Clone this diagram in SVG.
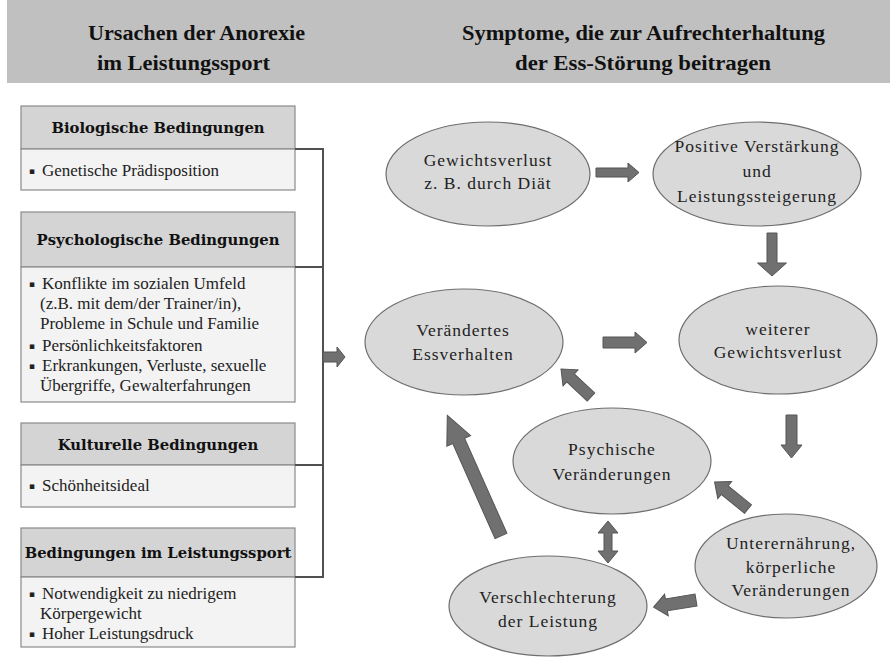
<svg xmlns="http://www.w3.org/2000/svg" width="890" height="660" viewBox="0 0 890 660">
<style>
.title{font-family:'Liberation Serif','Times New Roman',serif;font-weight:bold;font-size:20px;fill:#111}
.bh{fill:#d4d4d4;stroke:#8a8a8a;stroke-width:1.2}
.bb{fill:#f3f3f3;stroke:#8a8a8a;stroke-width:1.2}
.ht{font-family:'DejaVu Serif',serif;font-weight:bold;font-size:14.8px;fill:#111;text-anchor:middle}
.bt{font-family:'Liberation Serif','Times New Roman',serif;font-size:17px;fill:#222}
.bul{font-family:'DejaVu Sans',sans-serif;font-size:9px;fill:#222}
.el{fill:#d9d9d9;stroke:#6e6e6e;stroke-width:1.2}
.et{font-family:'Liberation Serif','Times New Roman',serif;font-size:17.5px;fill:#222;text-anchor:middle;letter-spacing:1px}
.ar{fill:#707070;stroke:#555;stroke-width:1}
.ln{fill:none;stroke:#505050;stroke-width:2}
</style>
<rect x="0" y="0" width="890" height="660" fill="#fff"/>
<g id="header">
<rect x="7" y="0" width="883" height="83" fill="#c0c0c0"/>
<text class="title" x="88" y="40" textLength="217" lengthAdjust="spacingAndGlyphs">Ursachen der Anorexie</text>
<text class="title" x="97" y="70" textLength="173" lengthAdjust="spacingAndGlyphs">im Leistungssport</text>
<text class="title" x="462" y="40" textLength="363" lengthAdjust="spacingAndGlyphs">Symptome, die zur Aufrechterhaltung</text>
<text class="title" x="515" y="70" textLength="256" lengthAdjust="spacingAndGlyphs">der Ess-Störung beitragen</text>
</g>
<g id="box-bio">
<rect class="bh" x="21" y="106" width="274" height="43"/>
<rect class="bb" x="21" y="149" width="274" height="41"/>
<text class="ht" x="158" y="133">Biologische Bedingungen</text>
<text class="bul" x="29" y="174">▪</text>
<text class="bt" x="42" y="176">Genetische Prädisposition</text>
</g>
<g id="box-psy">
<rect class="bh" x="21" y="212" width="274" height="55"/>
<rect class="bb" x="21" y="267" width="274" height="135"/>
<text class="ht" x="158" y="245">Psychologische Bedingungen</text>
<text class="bul" x="29" y="287">▪</text>
<text class="bt" x="42" y="289">Konflikte im sozialen Umfeld</text>
<text class="bt" x="40" y="309">(z.B. mit dem/der Trainer/in),</text>
<text class="bt" x="40" y="329">Probleme in Schule und Familie</text>
<text class="bul" x="29" y="349">▪</text>
<text class="bt" x="42" y="351">Persönlichkeitsfaktoren</text>
<text class="bul" x="29" y="369">▪</text>
<text class="bt" x="42" y="371">Erkrankungen, Verluste, sexuelle</text>
<text class="bt" x="40" y="391">Übergriffe, Gewalterfahrungen</text>
</g>
<g id="box-kult">
<rect class="bh" x="21" y="423" width="274" height="42"/>
<rect class="bb" x="21" y="465" width="274" height="42"/>
<text class="ht" x="158" y="450">Kulturelle Bedingungen</text>
<text class="bul" x="29" y="489">▪</text>
<text class="bt" x="42" y="491">Schönheitsideal</text>
</g>
<g id="box-sport">
<rect class="bh" x="21" y="528" width="274" height="49"/>
<rect class="bb" x="21" y="577" width="274" height="70"/>
<text class="ht" x="158" y="558">Bedingungen im Leistungssport</text>
<text class="bul" x="29" y="597">▪</text>
<text class="bt" x="42" y="599">Notwendigkeit zu niedrigem</text>
<text class="bt" x="40" y="619">Körpergewicht</text>
<text class="bul" x="29" y="637">▪</text>
<text class="bt" x="42" y="639">Hoher Leistungsdruck</text>
</g>
<g id="e-gewicht">
<ellipse class="el" cx="488" cy="174" rx="102" ry="52"/>
<text class="et" x="488" y="166">Gewichtsverlust</text>
<text class="et" x="488" y="189">z. B. durch Diät</text>
</g>
<g id="e-positiv">
<ellipse class="el" cx="757" cy="174" rx="104" ry="52"/>
<text class="et" x="757" y="152">Positive Verstärkung</text>
<text class="et" x="757" y="177">und</text>
<text class="et" x="757" y="202">Leistungssteigerung</text>
</g>
<g id="e-essverhalten">
<ellipse class="el" cx="464" cy="342" rx="99" ry="53"/>
<text class="et" x="463" y="336">Verändertes</text>
<text class="et" x="463" y="360">Essverhalten</text>
</g>
<g id="e-weiterer">
<ellipse class="el" cx="778" cy="340" rx="99" ry="54"/>
<text class="et" x="778" y="335">weiterer</text>
<text class="et" x="778" y="358">Gewichtsverlust</text>
</g>
<g id="e-psychisch">
<ellipse class="el" cx="612" cy="461" rx="99" ry="53"/>
<text class="et" x="612" y="455">Psychische</text>
<text class="et" x="612" y="480">Veränderungen</text>
</g>
<g id="e-unterernaehrung">
<ellipse class="el" cx="786" cy="566" rx="91" ry="52"/>
<text class="et" x="791" y="549">Unterernährung,</text>
<text class="et" x="791" y="573">körperliche</text>
<text class="et" x="791" y="596">Veränderungen</text>
</g>
<g id="e-leistung">
<ellipse class="el" cx="548" cy="606" rx="99" ry="50"/>
<text class="et" x="548" y="603">Verschlechterung</text>
<text class="et" x="548" y="627">der Leistung</text>
</g>
<g id="connectors">
<path class="ln" d="M295,149 H323 V577 H295 M295,267 H323 M295,465 H323"/>
<path class="ar" transform="translate(323,357)" d="M0,-5 L14,-5 L14,-10 L22,0 L14,10 L14,5 L0,5 Z"/>
<path class="ar" transform="translate(596,172.5)" d="M0,-4.5 L32,-4.5 L32,-9.5 L43,0 L32,9.5 L32,4.5 L0,4.5 Z"/>
<path class="ar" transform="translate(772,233) rotate(90)" d="M0,-5 L30,-5 L30,-14.5 L43,0 L30,14.5 L30,5 L0,5 Z"/>
<path class="ar" transform="translate(603,342.5)" d="M0,-5.5 L32,-5.5 L32,-10.5 L44,0 L32,10.5 L32,5.5 L0,5.5 Z"/>
<path class="ar" transform="translate(791.5,415) rotate(90)" d="M0,-5.5 L30,-5.5 L30,-10.5 L43,0 L30,10.5 L30,5.5 L0,5.5 Z"/>
<path class="ar" transform="translate(748,509) rotate(219)" d="M0,-5.5 L30,-5.5 L30,-11 L43,0 L30,11 L30,5.5 L0,5.5 Z"/>
<path class="ar" transform="translate(591,397) rotate(223)" d="M0,-5.5 L28,-5.5 L28,-11 L41,0 L28,11 L28,5.5 L0,5.5 Z"/>
<path class="ar" transform="translate(696,600) rotate(170.5)" d="M0,-6 L30,-6 L30,-11 L43,0 L30,11 L30,6 L0,6 Z"/>
<path class="ar" transform="translate(501,536) rotate(246)" d="M0,-6.5 L104,-6.5 L104,-13 L132,0 L104,13 L104,6.5 L0,6.5 Z"/>
<path class="ar" transform="translate(608,521) rotate(90)" d="M0,0 L12,-10 L12,-4 L30,-4 L30,-10 L42,0 L30,10 L30,4 L12,4 L12,10 Z"/>
</g>
</svg>
